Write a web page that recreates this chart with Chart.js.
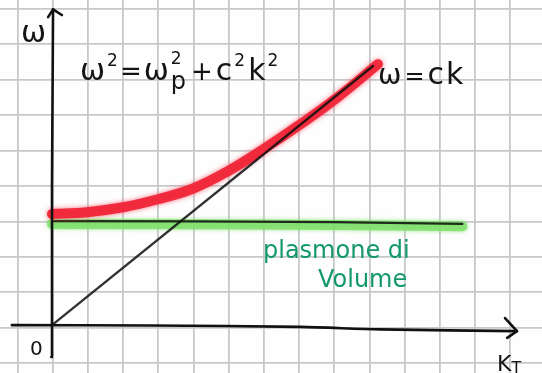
<!DOCTYPE html>
<html>
<head>
<meta charset="utf-8">
<script src="https://cdn.jsdelivr.net/npm/chart.js@4"></script>
<style>
  html, body { margin: 0; padding: 0; background: #fefefe; }
  canvas { display: block; }
</style>
</head>
<body>
<canvas id="sketch" width="542" height="373"></canvas>
<script>
// squared paper lines, one per unit
const gridK = [-1, 0, 1, 2, 3, 4, 5, 6, 7, 8, 9, 10, 11, 12, 13];
const gridW = [-1, 0, 1, 2, 3, 4, 5, 6, 7, 8, 9];

// polariton branch  w^2 = wp^2 + c^2 k^2
const curveK = [-0.02, 0.97, 2.00, 2.96, 3.99, 4.98, 6.03, 7.03, 8.02, 9.24];
const curveW = [3.21, 3.26, 3.40, 3.62, 3.93, 4.42, 5.07, 5.74, 6.45, 7.44];

// light line  w = ck
const lightK = [-0.02, 9.10];
const lightW = [0.07, 7.39];

// volume plasmon  w = wp (pen line + highlighter band)
const plasmaK = [-0.02, 4.0, 8.0, 11.64];
const plasmaW = [3.01, 3.00, 2.98, 2.93];
const bandW = [2.93, 2.92, 2.90, 2.86];

// hand drawn axes with arrow heads
const kAxisK = [-1.16, 2.76, 7.03, 9.30, 13.19];
const kAxisW = [0.07, 0.06, 0.02, -0.05, -0.10];
const kArrowK = [12.85, 13.19, 12.91];
const kArrowW = [0.27, -0.10, -0.29];
const wAxisK = [-0.04, -0.02, 0.01];
const wAxisW = [-0.83, 4.0, 8.99];
const wArrowK = [-0.13, 0.01, 0.26];
const wArrowW = [8.77, 8.99, 8.83];

function pts(xs, ys) {
    return xs.map((x, i) => ({x: x, y: ys[i]}));
}

function line(xs, ys, color, width, extra) {
    return Object.assign({
        data: pts(xs, ys),
        showLine: true,
        borderColor: color,
        borderWidth: width,
        pointRadius: 0,
        borderCapStyle: "round",
        borderJoinStyle: "round",
        fill: false
    }, extra || {});
}

// highlighter glow around marker strokes
const glowPlugin = {
    id: "glow",
    beforeDatasetDraw(chart, args) {
        const ds = chart.data.datasets[args.index];
        if (ds.glow) {
            chart.ctx.save();
            chart.ctx.shadowColor = ds.glow;
            chart.ctx.shadowBlur = ds.glowBlur;
        }
    },
    afterDatasetDraw(chart, args) {
        if (chart.data.datasets[args.index].glow) chart.ctx.restore();
    }
};

// writes a row of glyphs: [text, size, raise, extra gap] (gap false = no advance)
function writeRow(ctx, x, y, parts, family) {
    parts.forEach(p => {
        ctx.font = p[1] + "px " + family;
        ctx.fillText(p[0], x, y - p[2]);
        if (p[3] !== false) x += ctx.measureText(p[0]).width + (p[3] || 0);
    });
}

const labelPlugin = {
    id: "labels",
    afterDatasetsDraw(chart) {
        const ctx = chart.ctx;
        const fam = "'DejaVu Sans'";
        ctx.save();
        ctx.textBaseline = "alphabetic";
        ctx.fillStyle = "#141414";

        // axis names
        writeRow(ctx, 21, 42, [["ω", 30, 0]], fam);
        writeRow(ctx, 30, 355, [["0", 20, 0]], fam);
        writeRow(ctx, 497, 371, [["K", 22, 0, 0], ["T", 16, -2]], fam);

        // dispersion relation
        writeRow(ctx, 80, 80, [
            ["ω", 30, 0, 2], ["2", 17, 14, 2], ["=", 26, 0, 2],
            ["ω", 30, 0, 2], ["2", 17, 16, false], ["p", 24, -9, 5],
            ["+", 26, 0, 3], ["c", 30, 0, 2], ["2", 17, 14, 3],
            ["k", 30, 0, 2], ["2", 17, 14]
        ], fam);
        writeRow(ctx, 378, 84, [["ω", 28, 0, 3], ["=", 24, 0, 3], ["c", 30, 0, 2], ["k", 30, 0]], fam);

        // plasmon note
        ctx.fillStyle = "#13976c";
        writeRow(ctx, 263, 258, [["plasmone di", 24, 0]], fam);
        writeRow(ctx, 318, 287, [["Volume", 24, 0]], fam);
        ctx.restore();
    }
};

function gridScale(min, max, ticks) {
    return {
        type: "linear",
        min: min,
        max: max,
        afterBuildTicks: s => { s.ticks = ticks.map(v => ({value: v})); },
        ticks: {display: false},
        grid: {color: "#c6c9ca", lineWidth: 1.8, drawTicks: false},
        border: {display: false}
    };
}

// first dataset ends up on top, so strokes are listed top-down
new Chart(document.getElementById("sketch"), {
    type: "scatter",
    data: {
        datasets: [
            line(wArrowK, wArrowW, "#111", 2.6),
            line(wAxisK, wAxisW, "#111", 2.6),
            line(kArrowK, kArrowW, "#111", 2.6),
            line(kAxisK, kAxisW, "#111", 2.6, {tension: 0.3}),
            line(lightK, lightW, "rgba(15,15,15,0.85)", 2.4),
            line(curveK, curveW, "rgba(240,38,56,0.95)", 10, {tension: 0.4, glow: "rgba(245,70,90,0.8)", glowBlur: 5}),
            line(plasmaK, plasmaW, "#1f2a1c", 2.2),
            line(plasmaK, bandW, "rgba(125,222,105,0.8)", 10, {glow: "rgba(125,222,105,0.9)", glowBlur: 4})
        ]
    },
    options: {
        responsive: false,
        animation: false,
        devicePixelRatio: 1,
        layout: {padding: 0},
        plugins: {legend: {display: false}, tooltip: {enabled: false}},
        scales: {
            x: gridScale(-1.497, 13.90, gridK),
            y: gridScale(-1.282, 9.254, gridW)
        }
    },
    plugins: [glowPlugin, labelPlugin]
});
</script>
</body>
</html>
